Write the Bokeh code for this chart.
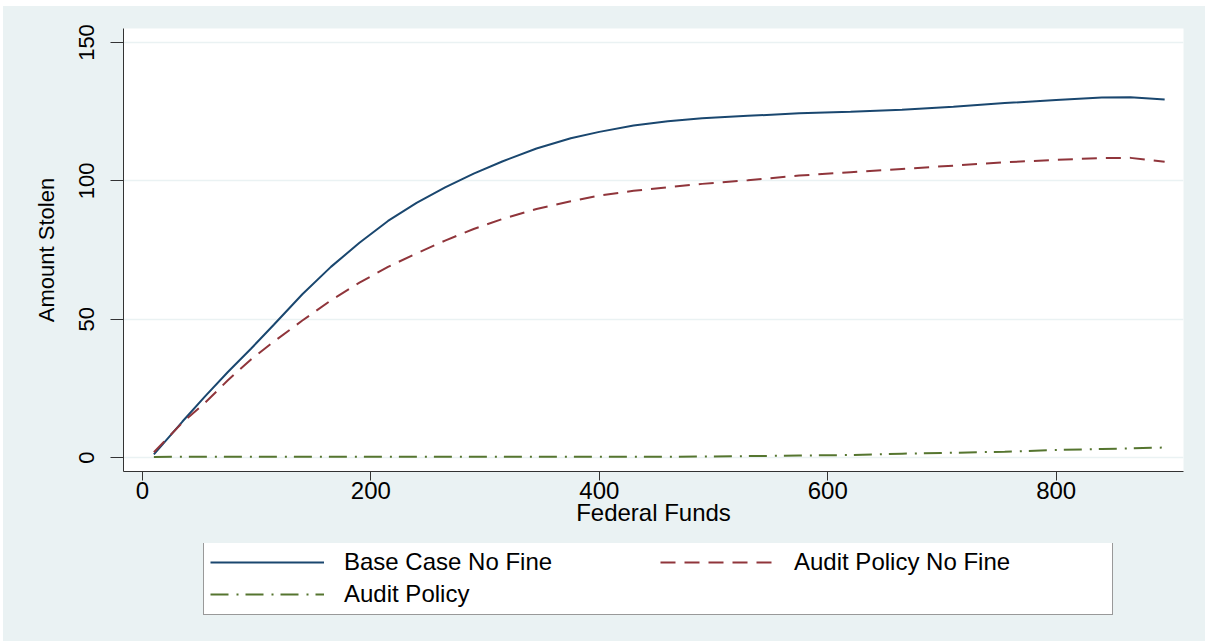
from bokeh.plotting import figure
from bokeh.models import Range1d, Legend, LegendItem, FixedTicker
from bokeh.layouts import column
from bokeh.embed import file_html
from bokeh.resources import INLINE

# ---- data ----
funds = [10, 35, 55, 75, 95, 115, 140, 165, 190, 215, 240, 265, 290, 315, 345,
         375, 400, 430, 460, 490, 530, 575, 620, 665, 710, 755, 800, 840, 865, 895]
base_case = [1.1, 13.0, 22.2, 31.0, 39.3, 48.0, 59.0, 68.9, 77.6, 85.5, 92.0,
             97.6, 102.6, 107.0, 111.7, 115.4, 117.7, 120.0, 121.5, 122.6,
             123.5, 124.4, 125.0, 125.7, 126.8, 128.1, 129.2, 130.1, 130.2, 129.4]
audit_no_fine = [1.9, 12.6, 19.9, 28.0, 35.4, 41.9, 49.5, 56.8, 63.2, 68.9, 73.8,
                 78.4, 82.6, 86.2, 89.8, 92.6, 94.7, 96.4, 97.7, 98.9, 100.2,
                 101.9, 103.1, 104.3, 105.5, 106.7, 107.6, 108.2, 108.3, 106.9]
audit_policy = [0.2, 0.25, 0.3, 0.3, 0.3, 0.3, 0.3, 0.3, 0.3, 0.3, 0.3, 0.3, 0.3,
                0.3, 0.3, 0.3, 0.3, 0.3, 0.3, 0.35, 0.5, 0.7, 0.9, 1.4, 1.7, 2.1,
                2.7, 3.1, 3.3, 3.6]
x_ticks = [0, 200, 400, 600, 800]
y_ticks = [0, 50, 100, 150]
labels = ["Base Case No Fine", "Audit Policy No Fine", "Audit Policy"]

BG = "#EAF2F3"
AX = "#333333"
FONT = "Liberation Sans"
STYLES = [dict(line_color="#1A476F", line_width=2),
          dict(line_color="#90353B", line_width=2, line_dash="15 9"),
          dict(line_color="#55752F", line_width=2, line_dash="18 8 2 7")]
SERIES = [base_case, audit_no_fine, audit_policy]

# ---------------- main plot ----------------
p = figure(width=1202, height=537, output_backend="svg", toolbar_location=None,
           x_range=Range1d(-16.6, 911.5), y_range=Range1d(-5.06, 155.06),
           min_border_left=120, min_border_top=22, min_border_right=22,
           min_border_bottom=72, background_fill_color="white",
           border_fill_color=BG, outline_line_color=None)

for ys, st in zip(SERIES, STYLES):
    p.line(funds, ys, **st)

p.xgrid.grid_line_color = None
p.ygrid.grid_line_color = BG
p.ygrid.grid_line_width = 1.5
p.ygrid.ticker = FixedTicker(ticks=y_ticks)

xa = p.xaxis[0]
xa.ticker = FixedTicker(ticks=x_ticks, minor_ticks=[])
xa.axis_label = "Federal Funds"
xa.axis_line_color = AX
xa.major_tick_line_color = AX
xa.major_tick_out = 9
xa.major_tick_in = 0
xa.minor_tick_line_color = None
xa.major_label_text_font = FONT
xa.major_label_text_font_size = "24px"
xa.major_label_text_color = "black"
xa.major_label_standoff = 1
xa.axis_label_text_font = FONT
xa.axis_label_text_font_size = "24px"
xa.axis_label_text_font_style = "normal"
xa.axis_label_text_color = "black"
xa.axis_label_standoff = -3

ya = p.yaxis[0]
ya.ticker = FixedTicker(ticks=y_ticks, minor_ticks=[])
ya.axis_label = "Amount Stolen"
ya.axis_line_color = AX
ya.major_tick_line_color = AX
ya.major_tick_out = 13
ya.major_tick_in = 0
ya.minor_tick_line_color = None
ya.major_label_orientation = "vertical"
ya.major_label_text_font = FONT
ya.major_label_text_font_size = "22px"
ya.major_label_text_color = "black"
ya.major_label_standoff = 16
ya.axis_label_text_font = FONT
ya.axis_label_text_font_size = "22px"
ya.axis_label_text_font_style = "normal"
ya.axis_label_text_color = "black"
ya.axis_label_standoff = 18

# ---------------- legend strip ----------------
q = figure(width=1202, height=98, output_backend="svg", toolbar_location=None,
           x_range=Range1d(5000, 6000), y_range=Range1d(5000, 6000),
           x_axis_type=None, y_axis_type=None, min_border=0,
           background_fill_color=BG, border_fill_color=BG,
           outline_line_color=None)
rs = [q.line(funds, ys, **st) for ys, st in zip(SERIES, STYLES)]

legend = Legend(
    items=[LegendItem(label=lab, renderers=[r]) for lab, r in zip(labels, rs)],
    orientation="horizontal", nrows=2, location=(80, 26),
    glyph_width=114, glyph_height=24, label_standoff=20,
    label_width=312, label_height=24, spacing=4, padding=6, margin=0,
    border_line_color=AX, border_line_width=1,
    background_fill_color="white", background_fill_alpha=1,
    label_text_font=FONT, label_text_font_size="24px",
    label_text_color="black")
q.add_layout(legend, "center")

layout = column(p, q, spacing=0,
                styles={"background-color": BG, "margin-top": "6px",
                        "margin-left": "3px"})
open("out.html", "w").write(file_html(layout, INLINE))
